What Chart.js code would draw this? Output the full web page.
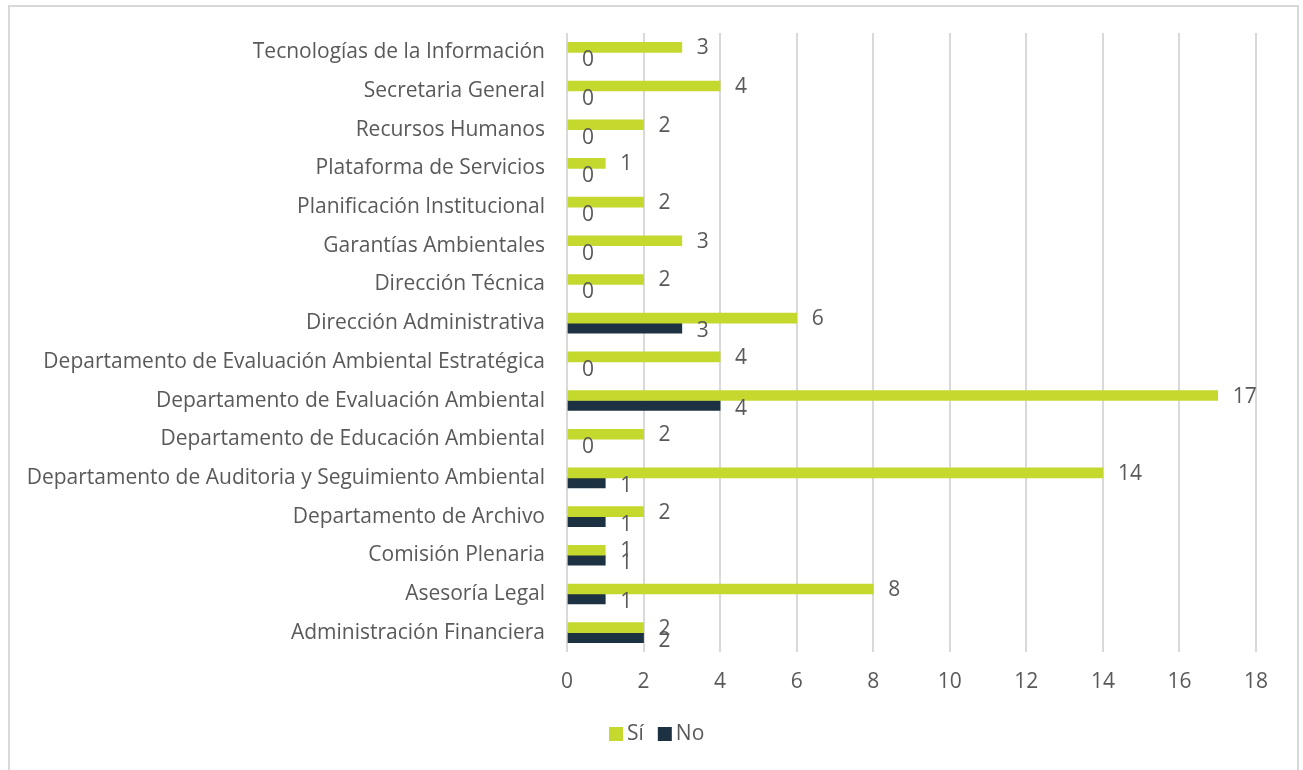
<!DOCTYPE html>
<html>
<head>
<meta charset="utf-8">
<script src="https://cdn.jsdelivr.net/npm/chart.js@4"></script>
<style>
  html, body { margin: 0; padding: 0; background: #fff; }
  #wrap { position: relative; width: 1303px; height: 770px; overflow: hidden; }
  #frame { position: absolute; left: 8px; top: 5px; width: 1287px; height: 800px; border: 2px solid #d9d9d9; }
  canvas { position: absolute; left: 0; top: 0; }
</style>
</head>
<body>
<div id="wrap">
  <div id="frame"></div>
  <canvas id="grafico" width="1303" height="770"></canvas>
</div>
<script>
// categorias de arriba hacia abajo
const categorias = [
  "Tecnologías de la Información",
  "Secretaria General",
  "Recursos Humanos",
  "Plataforma de Servicios",
  "Planificación Institucional",
  "Garantías Ambientales",
  "Dirección Técnica",
  "Dirección Administrativa",
  "Departamento de Evaluación Ambiental Estratégica",
  "Departamento de Evaluación Ambiental",
  "Departamento de Educación Ambiental",
  "Departamento de Auditoria y Seguimiento Ambiental",
  "Departamento de Archivo",
  "Comisión Plenaria",
  "Asesoría Legal",
  "Administración Financiera"
];
const valoresSi = [3, 4, 2, 1, 2, 3, 2, 6, 4, 17, 2, 14, 2, 1, 8, 2];
const valoresNo = [0, 0, 0, 0, 0, 0, 0, 3, 0, 4, 0, 1, 1, 1, 1, 2];
const ticksX = [0, 2, 4, 6, 8, 10, 12, 14, 16, 18];

const fuente = "'Open Sans', 'Noto Sans', sans-serif";
const gris = "#595959";
const tam = 21;
const colorSi = "#c4d82e";
const colorNo = "#1c3242";

// etiquetas de valor a la derecha de cada barra
const etiquetas = {
  id: "etiquetas",
  afterDatasetsDraw(chart) {
    const ctx = chart.ctx;
    ctx.save();
    ctx.font = tam + "px " + fuente;
    ctx.fillStyle = gris;
    ctx.textAlign = "left";
    ctx.textBaseline = "middle";
    chart.data.datasets.forEach((ds, i) => {
      chart.getDatasetMeta(i).data.forEach((bar, j) => {
        ctx.fillText(String(ds.data[j]), bar.x + 15, bar.y + (i === 1 ? 3 : 1));
      });
    });
    ctx.restore();
  }
};

// leyenda abajo, como en Excel
const leyenda = {
  id: "leyenda",
  afterDraw(chart) {
    const ctx = chart.ctx;
    ctx.save();
    ctx.font = tam + "px " + fuente;
    ctx.textBaseline = "middle";
    let x = 609;
    const y = 734;
    chart.data.datasets.forEach((ds, i) => {
      ctx.fillStyle = i === 0 ? colorSi : colorNo;
      ctx.fillRect(x, y - 7, 14, 14);
      ctx.fillStyle = gris;
      ctx.fillText(ds.label, x + 18, y);
      x += 18 + ctx.measureText(ds.label).width + 14;
    });
    ctx.restore();
  }
};

new Chart(document.getElementById("grafico"), {
  type: "bar",
  data: {
    labels: categorias,
    datasets: [
      { label: "Sí", data: valoresSi, backgroundColor: colorSi, barThickness: 10 },
      {
        label: "No", data: valoresNo, barThickness: 10,
        backgroundColor: (c) => (c.raw === 0 ? "rgba(0,0,0,0)" : colorNo)
      }
    ]
  },
  options: {
    indexAxis: "y",
    responsive: false,
    animation: false,
    layout: { padding: { top: 33, right: 47, left: 0, bottom: 55 } },
    scales: {
      x: {
        min: 0,
        max: 18,
        afterBuildTicks: (s) => { s.ticks = ticksX.map((v) => ({ value: v })); },
        afterFit: (s) => { s.height = 63; },
        grid: { color: "#d9d9d9", lineWidth: 2, drawTicks: false },
        border: { display: false },
        ticks: { color: gris, font: { family: fuente, size: tam }, padding: 17 }
      },
      y: {
        afterFit: (s) => { s.width = 567; },
        grid: { display: false },
        border: { display: false },
        ticks: { color: gris, font: { family: fuente, size: tam }, padding: 14 }
      }
    },
    plugins: {
      legend: { display: false },
      tooltip: { enabled: false }
    }
  },
  plugins: [etiquetas, leyenda]
});
</script>
</body>
</html>
